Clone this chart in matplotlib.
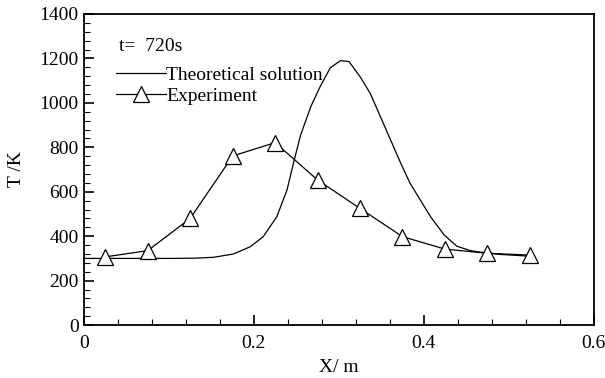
import matplotlib.pyplot as plt
from matplotlib.ticker import MultipleLocator

# theoretical solution curve
xTheo = [0.0, 0.05, 0.10, 0.13, 0.1525, 0.176, 0.196, 0.211, 0.227, 0.239, 0.247,
         0.255, 0.267, 0.278, 0.290, 0.302, 0.312, 0.325, 0.337, 0.349, 0.361,
         0.373, 0.384, 0.396, 0.408, 0.424, 0.439, 0.455, 0.467, 0.49, 0.525]
tTheo = [300, 300, 300, 301, 305, 320, 353, 398, 488, 608, 735,
         855, 983, 1073, 1158, 1190, 1186, 1118, 1043, 938, 833,
         728, 638, 563, 488, 406, 355, 335, 328, 318, 310]

# experiment points
xExp = [0.025, 0.075, 0.125, 0.175, 0.225, 0.275, 0.325, 0.375, 0.425, 0.475, 0.525]
tExp = [307, 335, 480, 761, 821, 653, 525, 398, 342, 323, 315]

plt.rcParams['font.family'] = ['Liberation Serif', 'DejaVu Serif']
plt.rcParams['font.size'] = 14

fig = plt.figure(figsize=(6.05, 3.78), dpi=100)
ax = fig.add_axes([0.139, 0.140, 0.842, 0.823])

ax.plot(xTheo, tTheo, color='black', lw=0.9, label='Theoretical solution')
ax.plot(xExp, tExp, color='black', lw=0.9, marker='^', ms=11, mfc='white',
        mec='black', mew=0.9, label='Experiment')

ax.set_xlim(0, 0.6)
ax.set_ylim(0, 1400)
ax.set_xticks([0, 0.2, 0.4, 0.6])
ax.set_xticklabels(['0', '0.2', '0.4', '0.6'])
ax.xaxis.set_minor_locator(MultipleLocator(0.04))
ax.yaxis.set_major_locator(MultipleLocator(200))
ax.yaxis.set_minor_locator(MultipleLocator(40))
ax.tick_params(which='major', direction='in', length=7, width=1.2, labelsize=14)
ax.tick_params(axis='x', which='major', pad=7)
ax.tick_params(axis='y', which='major', pad=4)
ax.tick_params(which='minor', direction='in', length=4, width=0.8)
for s in ax.spines.values():
    s.set_linewidth(1.3)

ax.set_xlabel('X/ m', labelpad=5)
ax.set_ylabel('T /K', labelpad=10)

ax.text(0.068, 0.882, 't=  720s', transform=ax.transAxes, fontsize=14)
ax.legend(loc='upper left', bbox_to_anchor=(0.047, 0.858), frameon=False,
          handlelength=2.6, handletextpad=0.0, labelspacing=0.2,
          numpoints=1, fontsize=14, borderaxespad=0)

plt.savefig('out.png', dpi=100)
